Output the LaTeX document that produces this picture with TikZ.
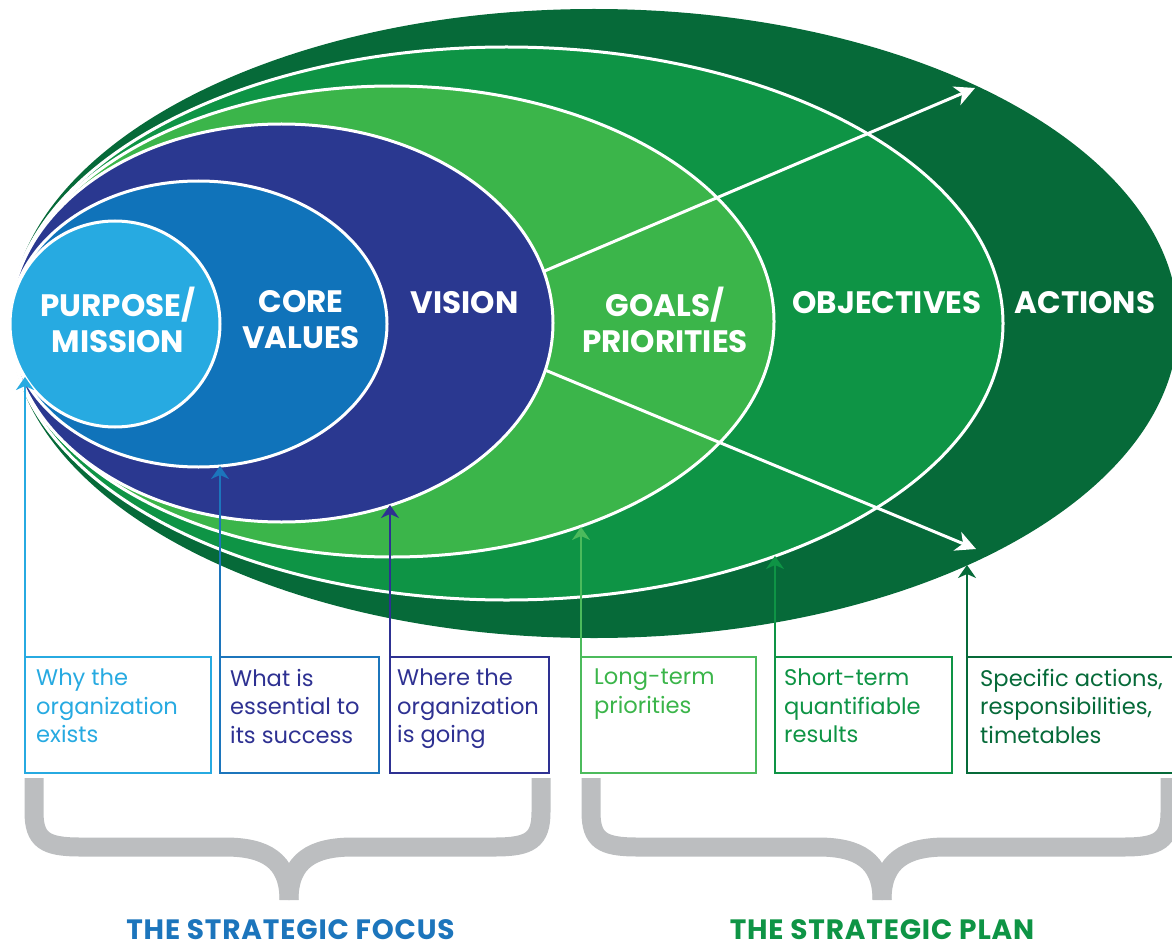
\documentclass[tikz,border=0pt]{standalone}
\usepackage{fontspec}
\setmainfont{Poppins}
\usepackage{tikz}
\usetikzlibrary{arrows.meta}
\usetikzlibrary{shapes.geometric}
\usetikzlibrary{positioning}
\usepackage{xcolor}

\definecolor{skyblue}{HTML}{27AAE1}
\definecolor{coreblue}{HTML}{1073BA}
\definecolor{navy}{HTML}{2A3890}
\definecolor{goalgreen}{HTML}{3BB54A}
\definecolor{objgreen}{HTML}{0E9445}
\definecolor{actgreen}{HTML}{066A39}
\definecolor{linkblue}{HTML}{1C75BC}
\definecolor{linknavy}{HTML}{2E3192}
\definecolor{linkgreen}{HTML}{4CBB5C}
\definecolor{bracegray}{HTML}{BCBEC0}

\tikzset{
  ring/.style={ellipse, fill=#1, draw=white, line width=3pt, inner sep=0pt},
  ringtext/.style={text=white, align=center, inner sep=0pt, font=\fontsize{31}{36}\selectfont\bfseries},
  notebox/.style={draw=#1, line width=2pt, anchor=north west, minimum height=116pt, inner sep=0pt, outer sep=0pt},
  notetext/.style={text=#1, align=left, inner sep=0pt, font=\fontsize{22.6}{28.5}\selectfont},
  riser/.style={draw=#1, line width=2pt, -{Stealth[length=13pt, width=18pt, inset=4pt]}},
  ray/.style={draw=white, line width=3pt, -{Stealth[length=20pt, width=20pt, inset=6pt]}},
  bracket/.style={draw=bracegray, line width=19pt},
  bottomtitle/.style={text=#1, inner sep=0pt, font=\fontsize{28}{32}\selectfont\bfseries\addfontfeatures{LetterSpace=3}}
}

\begin{document}
\begin{tikzpicture}[x=1pt, y=-1pt]
  \useasboundingbox (0,0) rectangle (1172,952);

  \node (A) [ring=actgreen, draw=none, minimum width=1168pt, minimum height=629pt] at (594,323.5) {};
  \node (O) [ring=objgreen, minimum width=993pt, minimum height=553pt] at (506.5,323.5) {};
  \node (G) [ring=goalgreen, minimum width=764pt, minimum height=471pt] at (392,321.5) {};

  \coordinate (h) at (427,321);
  \coordinate (t1) at (975,88);
  \coordinate (t2) at (976,549);
  \path (h) edge [ray] (t1);
  \path (h) edge [ray] (t2);

  \node (V) [ring=navy, minimum width=543pt, minimum height=398pt] at (281.5,323) {};
  \node (C) [ring=coreblue, minimum width=377pt, minimum height=286pt] at (198.5,324) {};
  \node (P) [ring=skyblue, minimum width=210pt, minimum height=206pt] at (115,324) {};

  \node (p) [ringtext] at (118,320) {PURPOSE/\\MISSION};
  \node (c) [ringtext] at (301,320) {CORE\\VALUES};
  \node (v) [ringtext] at (464.5,303) {VISION};
  \node (g) [ringtext] at (665,320) {GOALS/\\PRIORITIES};
  \node (o) [ringtext] at (887,303) {OBJECTIVES};
  \node (a) [ringtext] at (1085,303) {ACTIONS};

  \node (B1) [notebox=skyblue, minimum width=186pt] at (25,657) {};
  \node (B2) [notebox=linkblue, minimum width=159pt] at (220,657) {};
  \node (B3) [notebox=linknavy, minimum width=159pt] at (390,657) {};
  \node (B4) [notebox=linkgreen, minimum width=175pt] at (581,657) {};
  \node (B5) [notebox=objgreen, minimum width=177pt] at (775,657) {};
  \node (B6) [notebox=actgreen, minimum width=230pt] at (967,657) {};

  \node (N1) [notetext=skyblue, below right=12pt and 11pt of B1.north west] {Why the\\organization\\exists};
  \node (N2) [notetext=linknavy, below right=12pt and 10pt of B2.north west] {What is\\essential to\\its success};
  \node (N3) [notetext=linknavy, below right=12pt and 7pt of B3.north west] {Where the\\organization\\is going};
  \node (N4) [notetext=goalgreen, below right=12pt and 13pt of B4.north west] {Long-term\\priorities};
  \node (N5) [notetext=objgreen, below right=12pt and 9pt of B5.north west] {Short-term\\quantifiable\\results};
  \node (N6) [notetext=actgreen, below right=12pt and 13pt of B6.north west] {Specific actions,\\responsibilities,\\timetables};

  \coordinate (r1) at (25,377);
  \coordinate (r2) at (220,466);
  \coordinate (r3) at (390,505);
  \coordinate (r4) at (581,527);
  \coordinate (r5) at (775,556);
  \coordinate (r6) at (967,565);

  \path (B1.north west) edge [riser=skyblue] (r1);
  \path (B2.north west) edge [riser=linkblue] (r2);
  \path (B3.north west) edge [riser=linknavy] (r3);
  \path (B4.north west) edge [riser=linkgreen] (r4);
  \path (B5.north west) edge [riser=objgreen] (r5);
  \path (B6.north west) edge [riser=actgreen] (r6);

  \foreach \xl/\xc/\xr in {34/289/541, 591/882/1170} {
    \draw [bracket] (\xl,778) -- (\xl,812) .. controls (\xl,840) and ({\xl+11},847) .. ({\xl+46},847)
      -- ({\xc-64},847) .. controls ({\xc-24},847) and (\xc,860) .. (\xc,900);
    \draw [bracket] (\xr,778) -- (\xr,812) .. controls (\xr,840) and ({\xr-11},847) .. ({\xr-46},847)
      -- ({\xc+64},847) .. controls ({\xc+24},847) and (\xc,860) .. (\xc,900);
  }

  \node (T1) [bottomtitle=linkblue] at (290.5,930) {THE STRATEGIC FOCUS};
  \node (T2) [bottomtitle=objgreen] at (882,930) {THE STRATEGIC PLAN};
\end{tikzpicture}
\end{document}
